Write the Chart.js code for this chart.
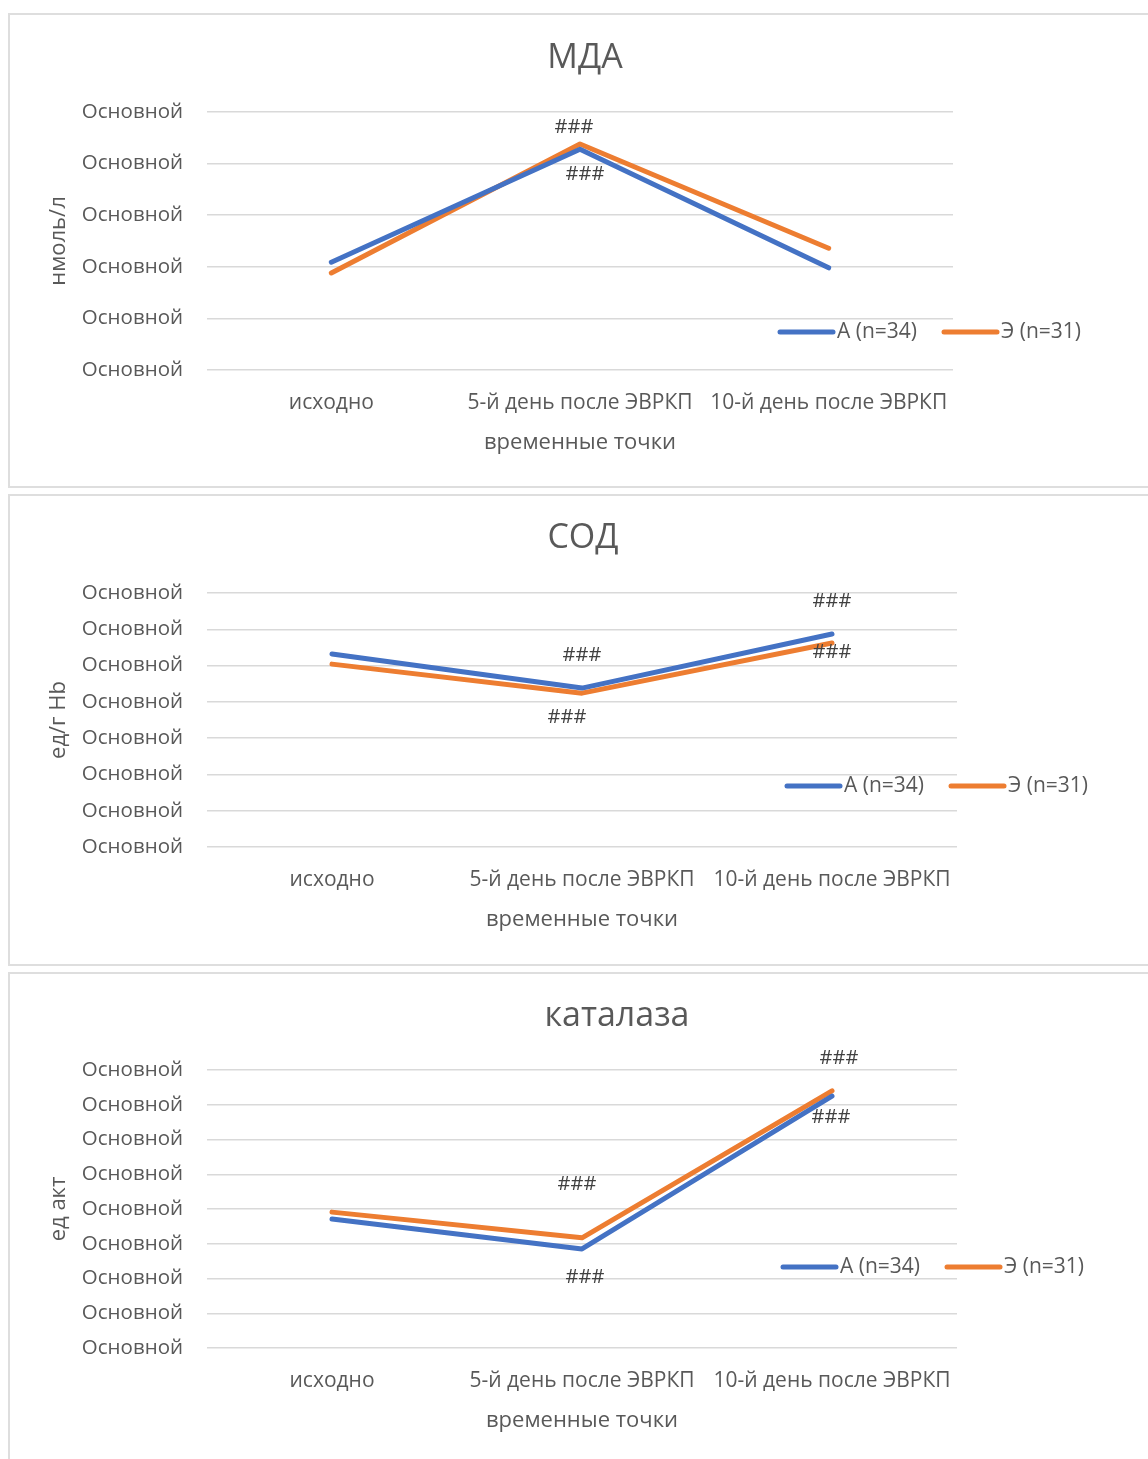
<!DOCTYPE html>
<html>
<head>
<meta charset="utf-8">
<script src="https://cdn.jsdelivr.net/npm/chart.js@4.4.1/dist/chart.umd.min.js"></script>
<style>
body{margin:0;background:#fff;width:1148px;height:1459px;overflow:hidden;position:relative;}
.panel{position:absolute;left:8px;width:1160px;border:2px solid #dedede;box-sizing:border-box;background:#fff;}
.panel canvas{position:absolute;left:0;top:0;}
</style>
</head>
<body>
<div class="panel" style="top:13px;height:475px"><canvas id="c1" width="1156" height="471"></canvas></div>
<div class="panel" style="top:494px;height:472px"><canvas id="c2" width="1156" height="468"></canvas></div>
<div class="panel" style="top:972px;height:500px"><canvas id="c3" width="1156" height="496"></canvas></div>
<script>
// ---------- DATA ----------
const timePoints = ["исходно", "5-й день после ЭВРКП", "10-й день после ЭВРКП"];
const seriesNames = ["А (n=34)", "Э (n=31)"];
const tickText = "Основной";

// МДА
const mdaA = [2.09, 4.28, 1.98];
const mdaE = [1.88, 4.38, 2.36];
const mdaLabelsA = ["", "###", ""];
const mdaLabelsE = ["", "###", ""];

// СОД
const sodA = [5.32, 4.38, 5.87];
const sodE = [5.04, 4.24, 5.62];
const sodLabelsA = ["", "###", "###"];
const sodLabelsE = ["", "###", "###"];

// каталаза
const catA = [3.71, 2.85, 7.25];
const catE = [3.91, 3.17, 7.40];
const catLabelsA = ["", "###", "###"];
const catLabelsE = ["", "###", "###"];

const FONT = '"Open Sans", sans-serif';
const TEXT = "#595959";
const BLUE = "#4472C4";
const ORANGE = "#ED7D31";

// ---------- PLUGINS ----------

// chart title at a given spot
const panelTitle = {
  id: "panelTitle",
  afterDraw(chart, args, opts){
    const ctx = chart.ctx;
    ctx.save();
    ctx.font = "34px " + FONT;
    ctx.fillStyle = TEXT;
    ctx.textAlign = "center";
    ctx.textBaseline = "middle";
    ctx.fillText(opts.text, opts.x, opts.y);
    ctx.restore();
  }
};

// "###" labels next to points
const hashLabels = {
  id: "hashLabels",
  afterDatasetsDraw(chart){
    const ctx = chart.ctx;
    ctx.save();
    ctx.font = "20px " + FONT;
    ctx.fillStyle = "#404040";
    ctx.textAlign = "center";
    ctx.textBaseline = "middle";
    chart.data.datasets.forEach((ds, di) => {
      const meta = chart.getDatasetMeta(di);
      (ds.hashText || []).forEach((t, i) => {
        if(!t) return;
        const p = meta.data[i];
        const s = ds.hashShift[i] || [0, 0];
        ctx.fillText(t, p.x + s[0], p.y + s[1]);
      });
    });
    ctx.restore();
  }
};

// legend drawn inside the panel
const sideLegend = {
  id: "sideLegend",
  afterDraw(chart, args, opts){
    const ctx = chart.ctx;
    ctx.save();
    ctx.font = "21px " + FONT;
    ctx.textBaseline = "middle";
    ctx.textAlign = "left";
    let x = opts.x;
    const y = opts.y;
    chart.data.datasets.forEach(ds => {
      ctx.strokeStyle = ds.borderColor;
      ctx.lineWidth = 5;
      ctx.lineCap = "round";
      ctx.beginPath();
      ctx.moveTo(x, y);
      ctx.lineTo(x + 53, y);
      ctx.stroke();
      ctx.fillStyle = TEXT;
      ctx.fillText(ds.label, x + 57, y);
      x += 57 + ctx.measureText(ds.label).width + 27;
    });
    ctx.restore();
  }
};

// ---------- CHART BUILDER ----------

function makeChart(id, cfg){
  const datasets = [
    {label: seriesNames[0], data: cfg.a, borderColor: BLUE, hashText: cfg.labelsA, hashShift: cfg.shiftA},
    {label: seriesNames[1], data: cfg.e, borderColor: ORANGE, hashText: cfg.labelsE, hashShift: cfg.shiftE}
  ].map(d => Object.assign(d, {
    borderWidth: 5,
    borderCapStyle: "round",
    borderJoinStyle: "round",
    pointRadius: 0,
    tension: 0,
    fill: false
  }));

  const yLeft = 36;
  new Chart(document.getElementById(id), {
    type: "line",
    data: {labels: timePoints, datasets: datasets},
    plugins: [panelTitle, hashLabels, sideLegend],
    options: {
      responsive: false,
      animation: false,
      layout: {padding: {left: yLeft, top: cfg.top, right: 1156 - cfg.right, bottom: cfg.bottomPad}},
      plugins: {
        legend: {display: false},
        title: {display: false},
        tooltip: {enabled: false},
        panelTitle: {text: cfg.title, x: cfg.titleX, y: cfg.titleY},
        sideLegend: {x: cfg.legendX, y: cfg.legendY}
      },
      scales: {
        x: {
          offset: true,
          grid: {display: false},
          border: {display: false},
          ticks: {color: TEXT, font: {family: FONT, size: 21}, padding: 12, maxRotation: 0},
          title: {display: true, text: "временные точки", color: TEXT, font: {family: FONT, size: 22}, padding: 0},
          afterFit(s){ s.height = cfg.xHeight; }
        },
        y: {
          min: 0,
          max: cfg.max,
          grid: {color: "#d9d9d9", lineWidth: 1.5, drawTicks: false},
          border: {display: false},
          ticks: {stepSize: 1, color: TEXT, font: {family: FONT, size: 20.5}, padding: 24, callback: () => tickText},
          title: {display: true, text: cfg.yTitle, color: TEXT, font: {family: FONT, size: 22}, padding: 0},
          afterFit(s){ s.width = 197 - yLeft; }
        }
      }
    }
  });
}

makeChart("c1", {
  title: "МДА", titleX: 575, titleY: 43, yTitle: "нмоль/л",
  a: mdaA, e: mdaE, labelsA: mdaLabelsA, labelsE: mdaLabelsE,
  shiftA: [null, [5, 25], null], shiftE: [null, [-6, -17], null],
  max: 5, top: 97, right: 943, xHeight: 86, bottomPad: 471 - 355 - 86,
  legendX: 770, legendY: 317
});

makeChart("c2", {
  title: "СОД", titleX: 573, titleY: 42, yTitle: "ед/г Hb",
  a: sodA, e: sodE, labelsA: sodLabelsA, labelsE: sodLabelsE,
  shiftA: [null, [0, -33], [0, -33]], shiftE: [null, [-15, 24], [0, 9]],
  max: 7, top: 97, right: 947, xHeight: 86, bottomPad: 468 - 351 - 86,
  legendX: 777, legendY: 290
});

makeChart("c3", {
  title: "каталаза", titleX: 607, titleY: 42, yTitle: "ед акт",
  a: catA, e: catE, labelsA: catLabelsA, labelsE: catLabelsE,
  shiftA: [null, [3, 28], [-1, 21]], shiftE: [null, [-5, -54], [7, -33]],
  max: 8, top: 96, right: 947, xHeight: 86, bottomPad: 496 - 374 - 86,
  legendX: 773, legendY: 293
});
</script>
</body>
</html>
